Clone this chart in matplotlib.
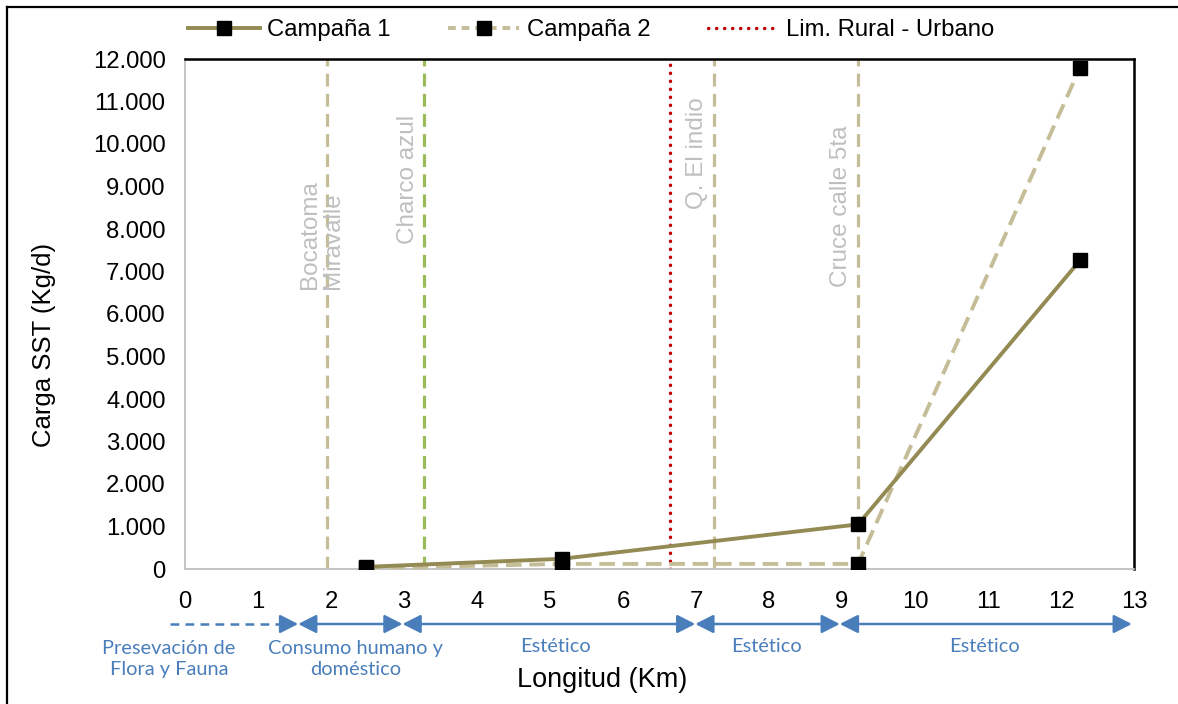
import numpy as np
import matplotlib
matplotlib.use("Agg")
import matplotlib.pyplot as plt
from matplotlib.ticker import FuncFormatter, MultipleLocator
from matplotlib.lines import Line2D

plt.rcParams['font.family'] = ['Liberation Sans', 'DejaVu Sans']

# data
x_km = [2.48, 5.16, 9.22, 12.26]
campana1 = [50, 240, 1050, 7260]
campana2 = [20, 120, 120, 11790]

# reference verticals (Km)
ref_x = [1.95, 3.28, 7.24, 9.22]
ref_labels = ["Bocatoma\nMiravalle", "Charco azul", "Q. El indio", "Cruce calle 5ta"]
ref_label_y = [6580, 7640, 8470, 6630]
lim_x = 6.64

# water-use stretches below the axis
use_bounds = [(1.55, 2.98), (2.98, 6.99), (6.99, 8.97), (8.97, 12.97)]
use_labels = ["Consumo humano y\ndoméstico", "Estético", "Estético", "Estético"]
use_label_x = [2.34, 5.08, 7.97, 10.95]
pres_label = "Presevación de\nFlora y Fauna"

c1_col = '#948a54'
c2_col = '#c4bd97'
green = '#9bbb59'
red = '#c00000'
blue = '#4a7ebb'
gray_txt = '#bfbfbf'

fig = plt.figure(figsize=(11.78, 7.04), dpi=100)
ax = fig.add_axes([185/1178, 1 - 569/704, (1134-185)/1178, (569-59)/704])

for xv, col in zip(ref_x, [c2_col, green, c2_col, c2_col]):
    ax.axvline(xv, color=col, lw=2.3, ls=(0, (4, 2.3)), zorder=1)
ax.axvline(lim_x, color=red, lw=2.4, ls=(0, (0.1, 2.3)), dash_capstyle='round', zorder=1)

ax.plot(x_km, campana2, color=c2_col, lw=2.8, ls=(0, (4, 2)), marker='s',
        ms=10.5, mfc='black', mec='black', zorder=3)
ax.plot(x_km, campana1, color=c1_col, lw=2.8, marker='s',
        ms=10.5, mfc='black', mec='black', zorder=4)

for xv, lab, yv in zip(ref_x, ref_labels, ref_label_y):
    ax.text(xv - 0.08, yv, lab, rotation=90, ha='right' if '\n' not in lab else 'center',
            va='bottom', color=gray_txt, fontsize=17.5, linespacing=1.1,
            multialignment='left')

ax.set_xlim(0, 13)
ax.set_ylim(0, 12000)
ax.xaxis.set_major_locator(MultipleLocator(1))
ax.yaxis.set_major_locator(MultipleLocator(1000))
ax.yaxis.set_major_formatter(FuncFormatter(lambda v, p: f"{int(v):,}".replace(',', '.')))
ax.tick_params(length=0, labelsize=17.2, pad=14)
ax.tick_params(axis='x', pad=16)
for s in ['left', 'bottom']:
    ax.spines[s].set_color('#bfbfbf')
    ax.spines[s].set_linewidth(1.3)
for s in ['top', 'right']:
    ax.spines[s].set_color('black')
    ax.spines[s].set_linewidth(1.8)

ax.set_ylabel("Carga SST (Kg/d)", fontsize=18.5)
ax.yaxis.set_label_coords((56 - 185) / 949, (569 - 345) / 510)
fig.text(602/1178, 1 - 680/704, "Longitud (Km)", ha='center', va='center', fontsize=19.5)

# arrows under the axis
trans = ax.get_xaxis_transform()
y_arr = (569 - 624) / 510
ax.plot([-0.2, 1.4], [y_arr, y_arr], transform=trans, color=blue, lw=1.8,
        ls=(0, (3.5, 2.5)), clip_on=False)
ax.annotate("", xy=(1.55, y_arr), xytext=(1.3, y_arr), xycoords=trans, textcoords=trans,
            arrowprops=dict(arrowstyle='-|>,head_length=0.55,head_width=0.28',
                            mutation_scale=20, color=blue, lw=1.8, shrinkA=0, shrinkB=0),
            annotation_clip=False)
for a, b in use_bounds:
    ax.annotate("", xy=(b, y_arr), xytext=(a, y_arr), xycoords=trans, textcoords=trans,
                arrowprops=dict(arrowstyle='<|-|>,head_length=0.55,head_width=0.28',
                                mutation_scale=20, color=blue, lw=1.8, shrinkA=0, shrinkB=0),
                annotation_clip=False)

blue_font = ['Lato', 'DejaVu Sans']
ax.text(-0.22, (569 - 659) / 510, pres_label, transform=trans, ha='center', va='center',
        color=blue, fontsize=14.4, family=blue_font, linespacing=1.3)
for xv, lab in zip(use_label_x, use_labels):
    yv = (569 - 659) / 510 if '\n' in lab else (569 - 646) / 510
    ax.text(xv, yv, lab, transform=trans, ha='center', va='center',
            color=blue, fontsize=14.4, family=blue_font, linespacing=1.3)

handles = [
    Line2D([], [], color=c1_col, lw=2.8, marker='s', ms=10.5, mfc='black', mec='black'),
    Line2D([], [], color=c2_col, lw=2.8, ls=(0, (2, 1.5)), marker='s', ms=10.5, mfc='black', mec='black'),
    Line2D([], [], color=red, lw=2.4, ls=(0, (0.1, 2.3)), dash_capstyle='round'),
]
fig.legend(handles, ["Campaña 1", "Campaña 2", "Lim. Rural - Urbano"], loc='center',
           bbox_to_anchor=(0.502, 1 - 30/704), ncol=3, frameon=False, fontsize=17.2,
           handlelength=3.0, handletextpad=0.3, columnspacing=2.4)

# outer chart border (left and top visible)
fig.add_artist(Line2D([7/1178, 7/1178], [0, 1 - 7/704], color='black', lw=1.6,
                      transform=fig.transFigure))
fig.add_artist(Line2D([7/1178, 1], [1 - 7/704, 1 - 7/704], color='black', lw=1.6,
                      transform=fig.transFigure))

fig.savefig("out.png", dpi=100)
